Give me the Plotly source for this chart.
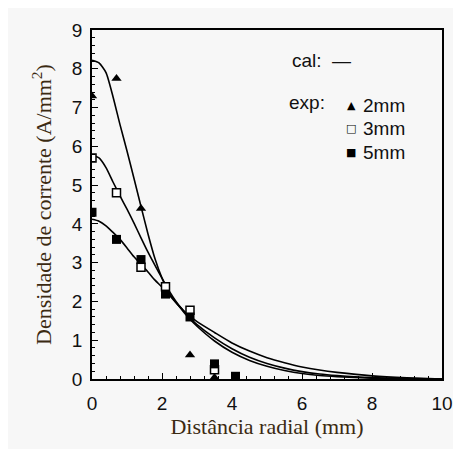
import plotly.graph_objects as go

# ---- data ----
exp_x_2mm = [0.0, 0.7, 1.4, 2.8, 3.5]
exp_y_2mm = [7.3, 7.75, 4.4, 0.62, 0.04]

exp_x_3mm = [0.0, 0.7, 1.4, 2.1, 2.8, 3.5]
exp_y_3mm = [5.7, 4.8, 2.88, 2.38, 1.77, 0.24]

exp_x_5mm = [0.0, 0.7, 1.4, 2.1, 2.8, 3.5, 4.1]
exp_y_5mm = [4.3, 3.6, 3.08, 2.19, 1.6, 0.39, 0.07]

cal_x = [0.0, 0.2, 0.4, 0.6, 0.8, 1.0, 1.2, 1.4, 1.6, 1.8, 2.0, 2.2, 2.4, 2.6,
         2.8, 3.0, 3.5, 4.0, 4.5, 5.0, 5.5, 6.0, 6.5, 7.0, 8.0, 9.0, 10.0]
cal_y_2mm = [8.22, 8.15, 7.9, 7.28, 6.56, 5.88, 5.17, 4.45, 3.74, 3.1, 2.6, 2.22, 1.97, 1.75,
             1.54, 1.36, 0.98, 0.69, 0.48, 0.33, 0.22, 0.14, 0.09, 0.06, 0.02, 0.006, 0.0]
cal_y_3mm = [5.77, 5.7, 5.45, 5.08, 4.72, 4.38, 4.02, 3.64, 3.27, 2.93, 2.6, 2.28, 2.0, 1.77,
             1.57, 1.4, 1.06, 0.78, 0.56, 0.4, 0.28, 0.19, 0.13, 0.09, 0.035, 0.01, 0.0]
cal_y_5mm = [4.12, 4.07, 3.95, 3.78, 3.6, 3.38, 3.15, 2.95, 2.76, 2.55, 2.37, 2.17, 1.97, 1.78,
             1.62, 1.48, 1.2, 0.93, 0.72, 0.55, 0.42, 0.31, 0.23, 0.17, 0.08, 0.03, 0.0]

x_ticks = [0, 2, 4, 6, 8, 10]
y_ticks = [0, 1, 2, 3, 4, 5, 6, 7, 8, 9]

legend_rows = ["2mm", "3mm", "5mm"]
legend_glyphs = ["▲", "□", "■"]

fig = go.Figure()

for cy in [cal_y_2mm, cal_y_3mm, cal_y_5mm]:
    fig.add_trace(go.Scatter(x=cal_x, y=cy, mode="lines",
                             line=dict(color="black", width=1.6, shape="spline", smoothing=0.6),
                             showlegend=False, hoverinfo="skip"))

fig.add_trace(go.Scatter(x=exp_x_2mm, y=exp_y_2mm, mode="markers",
                         marker=dict(symbol="triangle-up", size=9, color="black"),
                         showlegend=False))
fig.add_trace(go.Scatter(x=exp_x_3mm, y=exp_y_3mm, mode="markers",
                         marker=dict(symbol="square", size=8, color="white",
                                     line=dict(color="black", width=1.5)),
                         showlegend=False))
fig.add_trace(go.Scatter(x=exp_x_5mm, y=exp_y_5mm, mode="markers",
                         marker=dict(symbol="square", size=9, color="black"),
                         showlegend=False))

bg = "#f7f7f7"
tick_font = dict(family="Liberation Sans, Arial, sans-serif", size=19, color="#111111")
title_font = dict(family="Liberation Serif, Times New Roman, serif", size=22, color="#3b2a12")

# page body has an 8px margin; plot area in the figure: x 84..434, y 22..371
fig.update_layout(
    width=461, height=449,
    margin=dict(l=84, r=27, t=22, b=78),
    paper_bgcolor=bg, plot_bgcolor=bg,
    xaxis=dict(range=[0, 10], tickvals=x_ticks, ticktext=[str(v) for v in x_ticks],
               showgrid=False, zeroline=False, showline=True, linecolor="black", linewidth=1.5,
               mirror=True, ticks="inside", ticklen=6, tickwidth=1.2, tickcolor="black",
               minor=dict(dtick=0.4, ticks="inside", ticklen=3, tickwidth=1, tickcolor="black"),
               tickfont=tick_font, ticklabelstandoff=6,
               title=dict(text="Distância radial (mm)", font=title_font, standoff=6)),
    yaxis=dict(range=[0, 9], tickvals=y_ticks, ticktext=[str(v) for v in y_ticks],
               showgrid=False, zeroline=False, showline=True, linecolor="black", linewidth=1.5,
               mirror=True, ticks="inside", ticklen=6, tickwidth=1.2, tickcolor="black",
               minor=dict(dtick=0.2, ticks="inside", ticklen=3, tickwidth=1, tickcolor="black"),
               tickfont=tick_font, ticklabelstandoff=4,
               title=dict(text="Densidade de corrente (A/mm<sup>2</sup>)", font=title_font, standoff=14)),
)

# legend positions in paper coords (plot area: 350 x 349 px, origin at screen (92, 379))
leg_font = dict(family="Liberation Sans, Arial, sans-serif", size=19, color="#111111")
annotations = [
    dict(text="cal:  —", x=(290 - 92) / 350, y=(379 - 60) / 349, xanchor="left", yanchor="middle",
         xref="paper", yref="paper", showarrow=False, font=leg_font),
    dict(text="exp:", x=(287 - 92) / 350, y=(379 - 102) / 349, xanchor="left", yanchor="middle",
         xref="paper", yref="paper", showarrow=False, font=leg_font),
]
row_y = [105, 128, 152]
for lab, gl, py in zip(legend_rows, legend_glyphs, row_y):
    annotations.append(dict(text=gl, x=(351 - 92) / 350, y=(379 - py) / 349, xanchor="center",
                            yanchor="middle", xref="paper", yref="paper", showarrow=False,
                            font=dict(family="DejaVu Sans", size=11, color="black")))
    annotations.append(dict(text=lab, x=(361 - 92) / 350, y=(379 - py) / 349, xanchor="left",
                            yanchor="middle", xref="paper", yref="paper", showarrow=False,
                            font=leg_font))
fig.update_layout(annotations=annotations)

fig.write_html("out.html")
